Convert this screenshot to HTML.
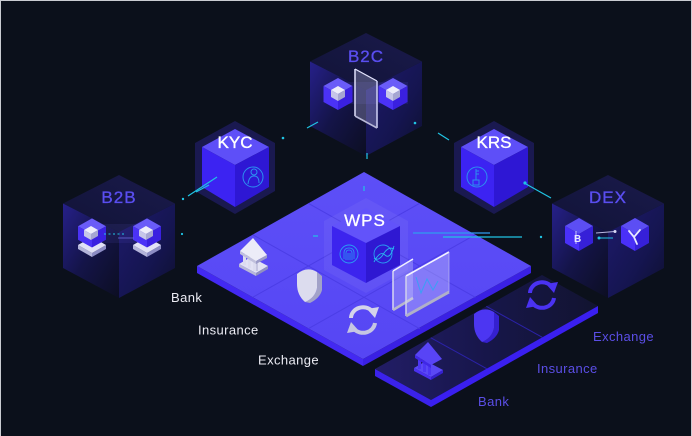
<!DOCTYPE html>
<html><head><meta charset="utf-8">
<style>
html,body{margin:0;padding:0;background:#0b101b;}
svg{display:block}
text{font-family:"Liberation Sans",sans-serif}
</style></head><body>
<svg width="692" height="436" viewBox="0 0 692 436" xmlns="http://www.w3.org/2000/svg">
<defs>
  <linearGradient id="gTop" x1="0" y1="1" x2="1" y2="0">
    <stop offset="0" stop-color="#111336"/><stop offset="1" stop-color="#1a1a4c"/>
  </linearGradient>
  <linearGradient id="gLeft" x1="0" y1="0" x2="1" y2="1">
    <stop offset="0" stop-color="#26208a"/><stop offset="0.5" stop-color="#141448"/><stop offset="1" stop-color="#0c0e22"/>
  </linearGradient>
  <linearGradient id="gRight" x1="0" y1="0" x2="1" y2="1">
    <stop offset="0" stop-color="#1e1a6c"/><stop offset="0.6" stop-color="#151550"/><stop offset="1" stop-color="#0e102e"/>
  </linearGradient>
  <linearGradient id="gStrip" x1="0" y1="0" x2="1" y2="0">
    <stop offset="0" stop-color="#221d66"/><stop offset="0.5" stop-color="#17164a"/><stop offset="1" stop-color="#121430"/>
  </linearGradient>
  <linearGradient id="gPlat" x1="0" y1="0" x2="0" y2="1">
    <stop offset="0" stop-color="#5d4ff7"/><stop offset="1" stop-color="#5646f4"/>
  </linearGradient>
</defs>

<rect width="692" height="436" fill="#0b101b"/>

<!-- ============ Glass box B2C ============ -->
<g>
  <polygon points="366,33 422,61.5 366,90 310,61.5" fill="url(#gTop)"/>
  <polygon points="310,61.5 366,90 366,156 310,126" fill="url(#gLeft)"/>
  <polygon points="366,90 422,61.5 422,126 366,156" fill="url(#gRight)"/>
  <polygon points="330,82 408,82 408,104 330,104" fill="#7a6cff" opacity="0.10"/>
  <!-- panel -->
  <polygon points="355,69 377,81 377,128 355,116" fill="#d8d8ff" opacity="0.26"/>
  <line x1="355" y1="69" x2="355" y2="116" stroke="#d6d6f2" stroke-width="1.6"/>
  <line x1="355" y1="69" x2="377" y2="81" stroke="#e6e6ff" stroke-width="1.2"/>
  <line x1="377" y1="81" x2="377" y2="128" stroke="#c8c8ee" stroke-width="1.6"/>
  <line x1="355" y1="116" x2="377" y2="128" stroke="#b8b8d8" stroke-width="1.6"/>
  <!-- cube 1 -->
  <polygon points="338,78 352.5,86 338,94 323.5,86" fill="#6a5cf8"/>
  <polygon points="323.5,86 338,94 338,110 323.5,102" fill="#4b32f6"/>
  <polygon points="338,94 352.5,86 352.5,102 338,110" fill="#3a20e0"/>
  <polygon points="338,86 345,90 338,94 331,90" fill="#eeeefa"/>
  <polygon points="331,90 338,94 338,101 331,97" fill="#c6c6e8"/>
  <polygon points="338,94 345,90 345,97 338,101" fill="#a6a6d2"/>
  <!-- cube 2 -->
  <polygon points="393,78 407.5,86 393,94 378.5,86" fill="#6a5cf8"/>
  <polygon points="378.5,86 393,94 393,110 378.5,102" fill="#4b32f6"/>
  <polygon points="393,94 407.5,86 407.5,102 393,110" fill="#3a20e0"/>
  <polygon points="393,86 400,90 393,94 386,90" fill="#eeeefa"/>
  <polygon points="386,90 393,94 393,101 386,97" fill="#c6c6e8"/>
  <polygon points="393,94 400,90 400,97 393,101" fill="#a6a6d2"/>
</g>

<!-- ============ Glass box B2B ============ -->
<g>
  <polygon points="119,175 175,203.5 119,232 63,203.5" fill="url(#gTop)"/>
  <polygon points="63,203.5 119,232 119,298 63,268" fill="url(#gLeft)"/>
  <polygon points="119,232 175,203.5 175,268 119,298" fill="url(#gRight)"/>
  <polygon points="100,224 150,224 150,243 100,243" fill="#7a6cff" opacity="0.09"/>
  <!-- slabs -->
  <polygon points="78,245 92,253 92,257 78,249" fill="#b4b4da"/>
  <polygon points="92,253 106,245 106,249 92,257" fill="#8c8cc4"/>
  <polygon points="78,245 92,237 106,245 92,253" fill="#e2e2f6"/>
  <polygon points="133,245 147,253 147,257 133,249" fill="#b4b4da"/>
  <polygon points="147,253 161,245 161,249 147,257" fill="#8c8cc4"/>
  <polygon points="133,245 147,237 161,245 147,253" fill="#e2e2f6"/>
  <!-- cube 1 -->
  <polygon points="92,218.4 106,226.2 92,234 78,226.2" fill="#6a5cf8"/>
  <polygon points="78,226.2 92,234 92,247.5 78,239.7" fill="#4b32f6"/>
  <polygon points="92,234 106,226.2 106,239.7 92,247.5" fill="#3a20e0"/>
  <polygon points="91,226 98,230 91,234 84,230" fill="#eeeefa"/>
  <polygon points="84,230 91,234 91,240 84,236" fill="#c6c6e8"/>
  <polygon points="91,234 98,230 98,236 91,240" fill="#a6a6d2"/>
  <!-- cube 2 -->
  <polygon points="147,218.4 161,226.2 147,234 133,226.2" fill="#6a5cf8"/>
  <polygon points="133,226.2 147,234 147,247.5 133,239.7" fill="#4b32f6"/>
  <polygon points="147,234 161,226.2 161,239.7 147,247.5" fill="#3a20e0"/>
  <polygon points="146,226 153,230 146,234 139,230" fill="#eeeefa"/>
  <polygon points="139,230 146,234 146,240 139,236" fill="#c6c6e8"/>
  <polygon points="146,234 153,230 153,236 146,240" fill="#a6a6d2"/>
  <!-- inner connector -->
  <line x1="104" y1="234" x2="126" y2="234" stroke="#20c4e4" stroke-width="1" stroke-dasharray="2,2.5"/>
  <line x1="118" y1="238" x2="134" y2="238" stroke="#6a6ad8" stroke-width="0.8"/>
</g>

<!-- ============ Glass box DEX ============ -->
<g>
  <polygon points="608,175 664,203.5 608,232 552,203.5" fill="url(#gTop)"/>
  <polygon points="552,203.5 608,232 608,298 552,268" fill="url(#gLeft)"/>
  <polygon points="608,232 664,203.5 664,268 608,298" fill="url(#gRight)"/>
  <!-- cube 1 -->
  <polygon points="579,218 593,226 579,234 565,226" fill="#5c4ef4"/>
  <polygon points="565,226 579,234 579,251 565,243" fill="#4a30f8"/>
  <polygon points="579,234 593,226 593,243 579,251" fill="#3620d8"/>
  <text x="574" y="242" font-size="10" font-weight="bold" fill="#e8e8ff">B</text>
  <line x1="576" y1="231" x2="576" y2="244" stroke="#e8e8ff" stroke-width="0.8"/>
  <!-- cube 2 -->
  <polygon points="635,218 649,226 635,234 621,226" fill="#5c4ef4"/>
  <polygon points="621,226 635,234 635,251 621,243" fill="#4a30f8"/>
  <polygon points="635,234 649,226 649,243 635,251" fill="#3620d8"/>
  <path d="M629,231 L634,237 M640,230 L634,237 L637,244" stroke="#e8e8ff" stroke-width="1.8" fill="none" stroke-linecap="round"/>
  <!-- inner connectors -->
  <line x1="596" y1="233" x2="615" y2="231.5" stroke="#b8b8e0" stroke-width="1"/>
  <circle cx="615" cy="231.5" r="1.5" fill="#d8d8f4"/>
  <line x1="599" y1="238" x2="613" y2="238" stroke="#20c4e4" stroke-width="1"/>
  <circle cx="599" cy="238" r="1.5" fill="#20c4e4"/>
</g>

<!-- ============ KYC ============ -->
<g>
  <polygon points="235,121 275,143 275,191 235,214 195,191 195,143" fill="#1a1950"/>
  <polygon points="235,129 269,147 235,165 202,147" fill="#5e4ff8"/>
  <polygon points="202,147 235,165 235,207 202,187" fill="#3c23f2"/>
  <polygon points="235,165 269,147 269,187 235,207" fill="#2e17d4"/>
  <circle cx="253" cy="177" r="10" fill="none" stroke="#2c8ff0" stroke-width="1"/>
  <circle cx="254" cy="172" r="3" fill="none" stroke="#2c8ff0" stroke-width="1"/>
  <path d="M248,184 Q249,176 254,176 Q259,176 259,183" fill="none" stroke="#2c8ff0" stroke-width="1"/>
</g>

<!-- ============ KRS ============ -->
<g>
  <polygon points="494,121 534,143 534,191 494,214 454,191 454,143" fill="#1a1950"/>
  <polygon points="494,129 528,147 494,165 461,147" fill="#5e4ff8"/>
  <polygon points="461,147 494,165 494,207 461,187" fill="#3c23f2"/>
  <polygon points="494,165 528,147 528,187 494,207" fill="#2e17d4"/>
  <circle cx="477" cy="177" r="10" fill="none" stroke="#2c8ff0" stroke-width="1"/>
  <path d="M476,169 L476,180 M476,171 L479,171 M476,174 L479,174" fill="none" stroke="#2c8ff0" stroke-width="1"/>
  <rect x="473" y="180" width="6" height="5" fill="none" stroke="#2c8ff0" stroke-width="1"/>
</g>

<!-- ============ Connectors ============ -->
<g stroke="#20c4e4" stroke-width="1.2" fill="none">
  <line x1="188" y1="196" x2="217" y2="177"/>
  <line x1="196" y1="192" x2="209" y2="185"/>
  <line x1="307" y1="128" x2="318" y2="122"/>
  <line x1="438" y1="133" x2="449" y2="140"/>
  <line x1="526" y1="184" x2="551" y2="198"/>
  <line x1="367" y1="153" x2="367" y2="159"/>
</g>
<g fill="#20c4e4">
  <circle cx="183" cy="199" r="1.2"/>
  <circle cx="283" cy="138" r="1.3"/>
  <circle cx="415" cy="123" r="1.3"/>
  <circle cx="525" cy="183" r="1.6"/>
  <circle cx="541" cy="237" r="1.2"/>
  <circle cx="182" cy="234" r="1.1"/>
</g>

<!-- ============ Dark strip ============ -->
<g>
  <polygon points="375,369 542,275 598,306 431,400" fill="url(#gStrip)"/>
  <polygon points="375,369 431,400 431,407 375,376" fill="#3b22ea"/>
  <polygon points="431,400 598,306 598,313 431,407" fill="#3a1ff0"/>
  <line x1="430.7" y1="337.7" x2="486.7" y2="368.7" stroke="#2b22a8" stroke-width="1"/>
  <line x1="486.3" y1="306.3" x2="542.3" y2="337.3" stroke="#2b22a8" stroke-width="1"/>
  <!-- strip bank -->
  <g transform="translate(175,104)">
    <polygon points="239,264 251,257 268,266 256,273" fill="#5a48f6"/>
    <polygon points="239,264 256,273 256,276 239,267" fill="#4a30f0"/>
    <polygon points="256,273 268,266 268,269 256,276" fill="#3520d0"/>
    <g stroke="#4d36f4" stroke-width="3">
      <line x1="244.5" y1="254" x2="244.5" y2="265"/>
      <line x1="249.5" y1="257" x2="249.5" y2="268"/>
      <line x1="254.5" y1="260" x2="254.5" y2="271"/>
    </g>
    <polygon points="240,251 253,238 267,255 256,261" fill="#5844f6"/>
    <polygon points="240,251 256,261 256,264 240,254" fill="#4028e6"/>
  </g>
  <!-- strip shield -->
  <g transform="translate(177,40)">
    <path d="M317,272 L322,276 L322,290 Q320,298 310,303 L305,302 Q315,298 317,288 Z" fill="#3520d0"/>
    <path d="M297,274 Q307,266 317,272 L317,288 Q315,298 305,302 Q297,295 297,284 Z" fill="#4c36f2"/>
  </g>
  <!-- strip arrows -->
  <g transform="translate(179,-25)" fill="none" stroke-width="4">
    <path d="M351,318 A12,11 0 0 1 372,311" stroke="#4a32f2"/>
    <path d="M375,323 A12,11 0 0 1 354,329" stroke="#4a32f2"/>
    <polygon points="367,309 379,307 375,318" fill="#4a32f2" stroke="none"/>
    <polygon points="359,331 347,333 351,322" fill="#4a32f2" stroke="none"/>
  </g>
</g>

<!-- ============ Main platform ============ -->
<g>
  <polygon points="197,266 363,359 363,366 197,273" fill="#4329f2"/>
  <polygon points="363,359 531,266 531,273 363,366" fill="#3a20e4"/>
  <polygon points="364,172 531,266 363,359 197,266" fill="url(#gPlat)"/>
  <g stroke="#4b3de6" stroke-width="1">
    <line x1="308.3" y1="203.3" x2="475.3" y2="297.3"/>
    <line x1="252.7" y1="234.7" x2="419.7" y2="328.7"/>
    <line x1="419.7" y1="203.3" x2="252.7" y2="297.3"/>
    <line x1="475.3" y1="234.7" x2="308.3" y2="328.7"/>
  </g>
  <!-- WPS halo -->
  <polygon points="366,198 408,221 408,270 366,293 324,270 324,221" fill="#ffffff" opacity="0.05"/>
</g>

<!-- platform connectors on top -->
<g stroke="#20c4e4" stroke-width="1.2">
  <line x1="364" y1="186" x2="364" y2="191"/>
  <line x1="413" y1="233" x2="490" y2="233" stroke="#2f9cf0"/>
  <line x1="443" y1="237" x2="522" y2="237"/>
  <line x1="313" y1="236" x2="318" y2="236"/>
</g>

<!-- ============ WPS cube ============ -->
<g>
  <polygon points="366,208 400,226 366,243 332,226" fill="#6253fa"/>
  <polygon points="332,226 366,243 366,283 332,265" fill="#3c24ee"/>
  <polygon points="366,243 400,226 400,265 366,283" fill="#2f18d2"/>
  <!-- fingerprint -->
  <circle cx="349" cy="254" r="9" fill="none" stroke="#2a9df4" stroke-width="0.9"/>
  <g fill="none" stroke="#2a9df4" stroke-width="0.8">
    <path d="M344,259 L344,253 Q344,248 349,248 Q354,248 354,253 L354,259"/>
    <path d="M346,260 L346,253 Q346,250 349,250 Q352,250 352,253 L352,260"/>
    <path d="M348,260 L348,253 M350,253 L350,260"/>
  </g>
  <!-- dna -->
  <circle cx="383" cy="254" r="9" fill="none" stroke="#2a9df4" stroke-width="0.9"/>
  <g fill="none" stroke="#2ab6f0" stroke-width="0.9">
    <path d="M374,262 Q380,250 385,255 Q390,260 394,246"/>
    <path d="M374,258 Q379,262 384,253 Q389,246 394,249"/>
  </g>
</g>

<!-- ============ Platform icons (white) ============ -->
<!-- bank -->
<g>
  <polygon points="239,264 251,257 268,266 256,273" fill="#e2e2f4"/>
  <polygon points="239,264 256,273 256,276 239,267" fill="#b8b8d8"/>
  <polygon points="256,273 268,266 268,269 256,276" fill="#9090c0"/>
  <g stroke="#dcdcf0" stroke-width="3">
    <line x1="244.5" y1="254" x2="244.5" y2="265"/>
    <line x1="249.5" y1="257" x2="249.5" y2="268"/>
    <line x1="254.5" y1="260" x2="254.5" y2="271"/>
  </g>
  <g stroke="#a8a8cc" stroke-width="1">
    <line x1="257" y1="261" x2="257" y2="271"/>
  </g>
  <polygon points="240,251 253,238 267,255 256,261" fill="#ececf8"/>
  <polygon points="240,251 256,261 256,264 240,254" fill="#c0c0dc"/>
  <polygon points="256,261 267,255 267,258 256,264" fill="#9c9cc8"/>
</g>
<!-- shield -->
<g>
  <path d="M317,272 L322,276 L322,290 Q320,298 310,303 L305,302 Q315,298 317,288 Z" fill="#a2a2c8"/>
  <path d="M297,274 Q307,266 317,272 L317,288 Q315,298 305,302 Q297,295 297,284 Z" fill="#dcdcee"/>
</g>
<!-- arrows -->
<g fill="none" stroke-width="4">
  <path d="M351,318 A12,11 0 0 1 372,311" stroke="#d4d4ea"/>
  <path d="M375,323 A12,11 0 0 1 354,329" stroke="#c6c6e2"/>
  <polygon points="367,309 379,307 375,318" fill="#d4d4ea" stroke="none"/>
  <polygon points="359,331 347,333 351,322" fill="#c6c6e2" stroke="none"/>
</g>
<!-- monitors -->
<g>
  <polygon points="393,271 413,259 413,298 393,310" fill="#e0e0ff" opacity="0.28"/>
  <line x1="393" y1="271" x2="393" y2="310" stroke="#d8d8f0" stroke-width="1.5"/>
  <line x1="393" y1="271" x2="413" y2="259" stroke="#f2f2ff" stroke-width="1.5"/>
  <line x1="393" y1="310" x2="413" y2="298" stroke="#b8b8cc" stroke-width="2.5"/>
  <polygon points="406,276 449,252 449,292 406,316" fill="#e0e0ff" opacity="0.32"/>
  <line x1="406" y1="276" x2="449" y2="252" stroke="#f4f4ff" stroke-width="1.6"/>
  <line x1="406" y1="276" x2="406" y2="316" stroke="#d0d0ec" stroke-width="1.5"/>
  <line x1="406" y1="316" x2="449" y2="292" stroke="#b0b0c8" stroke-width="3"/>
  <line x1="449" y1="252" x2="449" y2="292" stroke="#c8c8ee" stroke-width="1" opacity="0.6"/>
  <polyline points="416,277 421,293 427,279 433,290 438,281" fill="none" stroke="#3aa0f5" stroke-width="1"/>
</g>

<!-- ============ Labels ============ -->
<g font-size="17" text-anchor="middle" stroke-width="0.35">
  <text x="235" y="148" fill="#ffffff" stroke="#ffffff">KYC</text>
  <text x="494" y="148" fill="#ffffff" stroke="#ffffff">KRS</text>
  <text x="365" y="226" fill="#ffffff" stroke="#ffffff" letter-spacing="1">WPS</text>
  <text x="366" y="62" fill="#5a4ef0" stroke="#5a4ef0" letter-spacing="1">B2C</text>
  <text x="119" y="203" fill="#5a4ef0" stroke="#5a4ef0" letter-spacing="1">B2B</text>
  <text x="608" y="203" fill="#5a4ef0" stroke="#5a4ef0" letter-spacing="1">DEX</text>
</g>
<g font-size="13" letter-spacing="0.4">
  <text x="171" y="302" fill="#ececf4">Bank</text>
  <text x="198" y="334.5" fill="#ececf4">Insurance</text>
  <text x="258" y="364.5" fill="#ececf4">Exchange</text>
  <text x="478" y="406" fill="#5b4ee6">Bank</text>
  <text x="537" y="373" fill="#5b4ee6">Insurance</text>
  <text x="593" y="341" fill="#5b4ee6">Exchange</text>
</g>

<!-- borders -->
<rect x="0" y="0" width="692" height="1" fill="#c9ccd2"/>
<rect x="0" y="0" width="1" height="436" fill="#c9ccd2"/>
<rect x="691" y="0" width="1" height="436" fill="#c9ccd2"/>
</svg>
</body></html>
